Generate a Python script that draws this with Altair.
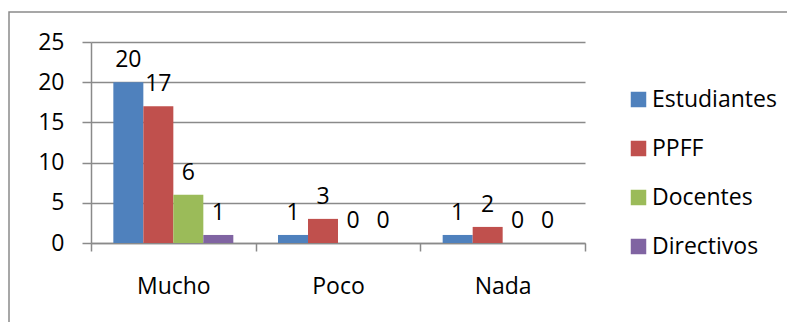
import altair as alt
import pandas as pd

# Survey answers per group
categories = ["Mucho", "Poco", "Nada"]
series = ["Estudiantes", "PPFF", "Docentes", "Directivos"]
estudiantes = [20, 1, 1]
ppff = [17, 3, 2]
docentes = [6, 0, 0]
directivos = [1, 0, 0]
colors = ["#4F81BD", "#C0504D", "#9BBB59", "#8064A2"]
y_ticks = [0, 5, 10, 15, 20, 25]

rows = []
for name, vals in zip(series, [estudiantes, ppff, docentes, directivos]):
    for cat, v in zip(categories, vals):
        rows.append({"categoria": cat, "grupo": name, "valor": v})
df = pd.DataFrame(rows)

FONT = "Open Sans"
GRID = "#8a8a8a"
FS = 23

x = alt.X(
    "categoria:N",
    sort=categories,
    title=None,
    scale=alt.Scale(paddingInner=0, paddingOuter=0),
    axis=alt.Axis(
        labelAngle=0,
        tickBand="extent",
        tickSize=8,
        tickColor=GRID,
        tickWidth=1.5,
        domainColor=GRID,
        domainWidth=1.5,
        labelFont=FONT,
        labelFontSize=FS,
        labelColor="black",
        labelBaseline="middle",
        labelPadding=35,
        grid=False,
    ),
)
xoff = alt.XOffset(
    "grupo:N", sort=series, scale=alt.Scale(paddingInner=0, paddingOuter=0.745)
)
y = alt.Y(
    "valor:Q",
    title=None,
    scale=alt.Scale(domain=[0, 25], nice=False),
    axis=alt.Axis(
        values=y_ticks,
        tickSize=9,
        tickColor=GRID,
        tickWidth=1.5,
        domainColor=GRID,
        domainWidth=1.5,
        gridColor=GRID,
        gridWidth=1.5,
        grid=True,
        labelFont=FONT,
        labelFontSize=FS,
        labelColor="black",
        labelPadding=18,
    ),
)
color = alt.Color(
    "grupo:N",
    sort=series,
    scale=alt.Scale(domain=series, range=colors),
    legend=alt.Legend(
        orient="none",
        legendX=536,
        legendY=46,
        title=None,
        symbolType="square",
        symbolSize=240,
        symbolStrokeWidth=0,
        symbolOpacity=1,
        labelFont=FONT,
        labelFontSize=FS,
        labelColor="black",
        labelOffset=2,
        rowPadding=25,
        padding=0,
    ),
)

# Outer frame around the whole chart
frame = alt.Chart(pd.DataFrame({"k": [0]})).mark_rect(
    fill=None, stroke=GRID, strokeWidth=1.5, clip=False
).encode(
    x=alt.value(-82), x2=alt.value(900), y=alt.value(-30), y2=alt.value(500)
)

bars = alt.Chart(df).mark_bar(size=30).encode(x=x, xOffset=xoff, y=y, color=color)

labels = alt.Chart(df).mark_text(
    dy=-22, font=FONT, fontSize=FS, color="black", align="center", baseline="middle"
).encode(x=x, xOffset=xoff, y=y, text=alt.Text("valor:Q"))

chart = (
    alt.layer(frame, bars, labels)
    .properties(
        width=494,
        height=201,
        padding={"left": 91, "top": 42, "right": 202, "bottom": 79},
        autosize=alt.AutoSizeParams(type="none"),
        background="white",
    )
    .configure_view(stroke=None)
)

chart.save("out.html", embed_options={"renderer": "svg", "actions": False})
